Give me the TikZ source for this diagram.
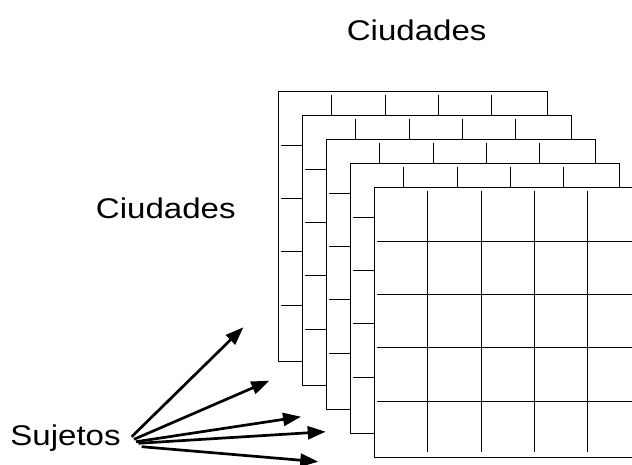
\documentclass[tikz,border=0pt]{standalone}
\usepackage{graphicx}
\usepackage{fontspec}
\setmainfont{Liberation Sans}
\usetikzlibrary{arrows.meta}
\begin{document}
\begin{tikzpicture}[x=1pt,y=-1pt,
  caption/.style={font=\fontsize{28.5}{34}\selectfont, inner sep=0pt, anchor=base},
  sheet/.style={draw=black, fill=white, line width=1pt},
  gridline/.style={draw=black, line width=1pt},
  pointer/.style={draw=black, line width=2.7pt, -{Triangle[length=18pt,width=13pt]}}]
  \clip (0,0) rectangle (632,464);
  \fill[white] (0,0) rectangle (632,464);

  % labels
  \node[caption] (top)  at (416.7,40)  {\scalebox{1.16}[1]{Ciudades}};
  \node[caption] (side) at (165.8,218.3) {\scalebox{1.16}[1]{Ciudades}};
  \node[caption] (subj) at (65.5,445)  {\scalebox{1.16}[1]{Sujetos}};

  % stack of 5x5 tables, back to front
  \def\side{269.3}
  \def\cell{53.4}
  \foreach \k in {0,...,4} {
    \pgfmathsetmacro\sx{278.3+24*\k}
    \pgfmathsetmacro\sy{91.7+24*\k}
    \draw[sheet] (\sx,\sy) rectangle ++(\side,\side);
    \foreach \j in {1,...,4} {
      \draw[gridline] (\sx+\cell*\j,\sy+3) -- ++(0,\side-8);
      \draw[gridline] (\sx+3,\sy+\cell*\j) -- ++(\side-8,0);
    }
  }

  % arrows from the subjects label into the stack
  \coordinate (s1) at (131.7,436.7); \coordinate (t1) at (243.3,327.3);
  \coordinate (s2) at (134.0,439.3); \coordinate (t2) at (269.3,380.7);
  \coordinate (s3) at (136.0,441.7); \coordinate (t3) at (301.0,416.7);
  \coordinate (s4) at (138.3,443.3); \coordinate (t4) at (325.7,431.7);
  \coordinate (s5) at (141.7,446.7); \coordinate (t5) at (318.3,461.7);
  \foreach \i in {1,...,5} {
    \draw[pointer] (s\i) -- (t\i);
  }
\end{tikzpicture}
\end{document}
